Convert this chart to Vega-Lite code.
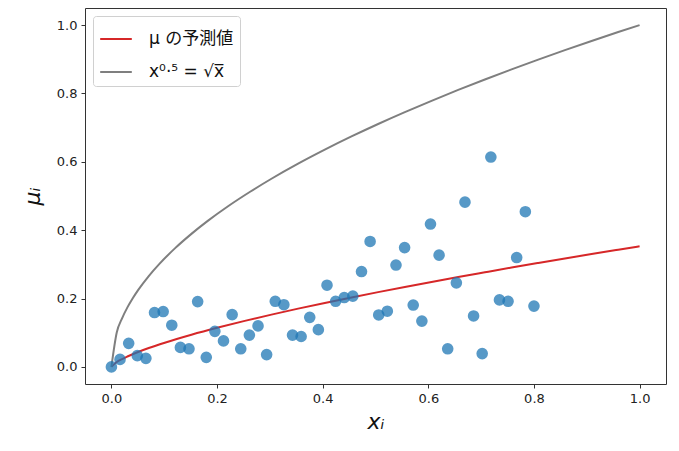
{
  "$schema": "https://vega.github.io/schema/vega-lite/v6.json",
  "width": 581,
  "height": 376,
  "autosize": "none",
  "padding": {"left": 85, "top": 8, "right": 13, "bottom": 67},
  "background": "white",
  "datasets": {
    "points": [
      {"x": 0, "mu": 0.0}, {"x": 0.0163, "mu": 0.022}, {"x": 0.0327, "mu": 0.069}, {"x": 0.049, "mu": 0.033},
      {"x": 0.0653, "mu": 0.025}, {"x": 0.0816, "mu": 0.159}, {"x": 0.098, "mu": 0.162}, {"x": 0.1143, "mu": 0.122},
      {"x": 0.1306, "mu": 0.057}, {"x": 0.1469, "mu": 0.053}, {"x": 0.1633, "mu": 0.191}, {"x": 0.1796, "mu": 0.028},
      {"x": 0.1959, "mu": 0.104}, {"x": 0.2122, "mu": 0.076}, {"x": 0.2286, "mu": 0.153}, {"x": 0.2449, "mu": 0.053},
      {"x": 0.2612, "mu": 0.093}, {"x": 0.2776, "mu": 0.12}, {"x": 0.2939, "mu": 0.036}, {"x": 0.3102, "mu": 0.192},
      {"x": 0.3265, "mu": 0.182}, {"x": 0.3429, "mu": 0.093}, {"x": 0.3592, "mu": 0.089}, {"x": 0.3755, "mu": 0.145},
      {"x": 0.3918, "mu": 0.109}, {"x": 0.4082, "mu": 0.239}, {"x": 0.4245, "mu": 0.192}, {"x": 0.4408, "mu": 0.203},
      {"x": 0.4571, "mu": 0.207}, {"x": 0.4735, "mu": 0.279}, {"x": 0.4898, "mu": 0.367}, {"x": 0.5061, "mu": 0.152},
      {"x": 0.5224, "mu": 0.163}, {"x": 0.5388, "mu": 0.298}, {"x": 0.5551, "mu": 0.349}, {"x": 0.5714, "mu": 0.181},
      {"x": 0.5878, "mu": 0.134}, {"x": 0.6041, "mu": 0.418}, {"x": 0.6204, "mu": 0.327}, {"x": 0.6367, "mu": 0.053},
      {"x": 0.6531, "mu": 0.246}, {"x": 0.6694, "mu": 0.482}, {"x": 0.6857, "mu": 0.149}, {"x": 0.702, "mu": 0.039},
      {"x": 0.7184, "mu": 0.614}, {"x": 0.7347, "mu": 0.196}, {"x": 0.751, "mu": 0.192}, {"x": 0.7673, "mu": 0.32},
      {"x": 0.7837, "mu": 0.454}, {"x": 0.8, "mu": 0.178}
    ],
    "curves": [
      {"series": "μ の予測値", "x": 0, "y": 0},
      {"series": "μ の予測値", "x": 0.0101, "y": 0.0142},
      {"series": "μ の予測値", "x": 0.0202, "y": 0.023},
      {"series": "μ の予測値", "x": 0.0303, "y": 0.0305},
      {"series": "μ の予測値", "x": 0.0505, "y": 0.0437},
      {"series": "μ の予測値", "x": 0.0707, "y": 0.0553},
      {"series": "μ の予測値", "x": 0.101, "y": 0.0709},
      {"series": "μ の予測値", "x": 0.1515, "y": 0.0942},
      {"series": "μ の予測値", "x": 0.202, "y": 0.1152},
      {"series": "μ の予測値", "x": 0.2525, "y": 0.1347},
      {"series": "μ の予測値", "x": 0.303, "y": 0.153},
      {"series": "μ の予測値", "x": 0.3535, "y": 0.1705},
      {"series": "μ の予測値", "x": 0.404, "y": 0.1872},
      {"series": "μ の予測値", "x": 0.4545, "y": 0.2033},
      {"series": "μ の予測値", "x": 0.505, "y": 0.2188},
      {"series": "μ の予測値", "x": 0.5556, "y": 0.2339},
      {"series": "μ の予測値", "x": 0.6061, "y": 0.2486},
      {"series": "μ の予測値", "x": 0.6566, "y": 0.263},
      {"series": "μ の予測値", "x": 0.7071, "y": 0.2769},
      {"series": "μ の予測値", "x": 0.7576, "y": 0.2907},
      {"series": "μ の予測値", "x": 0.8081, "y": 0.3041},
      {"series": "μ の予測値", "x": 0.8586, "y": 0.3173},
      {"series": "μ の予測値", "x": 0.9091, "y": 0.3302},
      {"series": "μ の予測値", "x": 0.9596, "y": 0.3429},
      {"series": "μ の予測値", "x": 1.0, "y": 0.353},
      {"series": "x⁰·⁵ = √x̅", "x": 0, "y": 0},
      {"series": "x⁰·⁵ = √x̅", "x": 0.0101, "y": 0.1005},
      {"series": "x⁰·⁵ = √x̅", "x": 0.0202, "y": 0.1421},
      {"series": "x⁰·⁵ = √x̅", "x": 0.0303, "y": 0.1741},
      {"series": "x⁰·⁵ = √x̅", "x": 0.0404, "y": 0.201},
      {"series": "x⁰·⁵ = √x̅", "x": 0.0505, "y": 0.2247},
      {"series": "x⁰·⁵ = √x̅", "x": 0.0707, "y": 0.2659},
      {"series": "x⁰·⁵ = √x̅", "x": 0.0909, "y": 0.3015},
      {"series": "x⁰·⁵ = √x̅", "x": 0.1212, "y": 0.3482},
      {"series": "x⁰·⁵ = √x̅", "x": 0.1515, "y": 0.3892},
      {"series": "x⁰·⁵ = √x̅", "x": 0.1818, "y": 0.4264},
      {"series": "x⁰·⁵ = √x̅", "x": 0.2222, "y": 0.4714},
      {"series": "x⁰·⁵ = √x̅", "x": 0.2626, "y": 0.5124},
      {"series": "x⁰·⁵ = √x̅", "x": 0.303, "y": 0.5505},
      {"series": "x⁰·⁵ = √x̅", "x": 0.3535, "y": 0.5946},
      {"series": "x⁰·⁵ = √x̅", "x": 0.404, "y": 0.6356},
      {"series": "x⁰·⁵ = √x̅", "x": 0.4545, "y": 0.6742},
      {"series": "x⁰·⁵ = √x̅", "x": 0.505, "y": 0.7107},
      {"series": "x⁰·⁵ = √x̅", "x": 0.5556, "y": 0.7454},
      {"series": "x⁰·⁵ = √x̅", "x": 0.6061, "y": 0.7785},
      {"series": "x⁰·⁵ = √x̅", "x": 0.6566, "y": 0.8103},
      {"series": "x⁰·⁵ = √x̅", "x": 0.7071, "y": 0.8409},
      {"series": "x⁰·⁵ = √x̅", "x": 0.7576, "y": 0.8704},
      {"series": "x⁰·⁵ = √x̅", "x": 0.8081, "y": 0.8989},
      {"series": "x⁰·⁵ = √x̅", "x": 0.8586, "y": 0.9266},
      {"series": "x⁰·⁵ = √x̅", "x": 0.9091, "y": 0.9535},
      {"series": "x⁰·⁵ = √x̅", "x": 0.9596, "y": 0.9796},
      {"series": "x⁰·⁵ = √x̅", "x": 1.0, "y": 1.0}
    ]
  },
  "config": {
    "font": "DejaVu Sans",
    "view": {"stroke": "#333", "strokeWidth": 1},
    "axis": {
      "grid": false,
      "domain": false,
      "tickColor": "#333",
      "tickSize": 4,
      "labelFont": "DejaVu Sans",
      "labelFontSize": 13,
      "labelColor": "#222",
      "titleFont": "DejaVu Sans",
      "titleFontWeight": "normal",
      "titleFontStyle": "italic",
      "titleColor": "#111"
    }
  },
  "layer": [
    {
      "data": {"name": "curves"},
      "mark": {"type": "line", "strokeWidth": 2, "interpolate": "monotone"},
      "encoding": {
        "x": {
          "field": "x", "type": "quantitative",
          "scale": {"domain": [-0.05, 1.05], "nice": false, "zero": false},
          "axis": {"values": [0, 0.2, 0.4, 0.6, 0.8, 1.0], "format": ".1f", "title": "xᵢ", "titleFontSize": 22, "titlePadding": 6, "labelPadding": 4}
        },
        "y": {
          "field": "y", "type": "quantitative",
          "scale": {"domain": [-0.05, 1.05], "nice": false, "zero": false},
          "axis": {"values": [0, 0.2, 0.4, 0.6, 0.8, 1.0], "format": ".1f", "title": "μᵢ", "titleFontSize": 22, "titlePadding": 12, "labelPadding": 4}
        },
        "color": {
          "field": "series", "type": "nominal",
          "scale": {"domain": ["μ の予測値", "x⁰·⁵ = √x̅"], "range": ["#d62728", "#7f7f7f"]},
          "legend": {
            "title": null,
            "orient": "top-left",
            "offset": 8,
            "fillColor": "white",
            "strokeColor": "#d0d0d0",
            "cornerRadius": 3,
            "padding": 6,
            "rowPadding": 8,
            "symbolType": "stroke",
            "symbolSize": 1000,
            "symbolStrokeWidth": 2,
            "labelFont": "DejaVu Sans, Noto Sans CJK JP",
            "labelFontSize": 17,
            "labelColor": "#111",
            "labelOffset": 16
          }
        },
        "detail": {"field": "series"}
      }
    },
    {
      "data": {"name": "points"},
      "mark": {"type": "circle", "size": 135, "color": "#1f77b4", "opacity": 0.75},
      "encoding": {
        "x": {"field": "x", "type": "quantitative"},
        "y": {"field": "mu", "type": "quantitative"}
      }
    }
  ]
}
